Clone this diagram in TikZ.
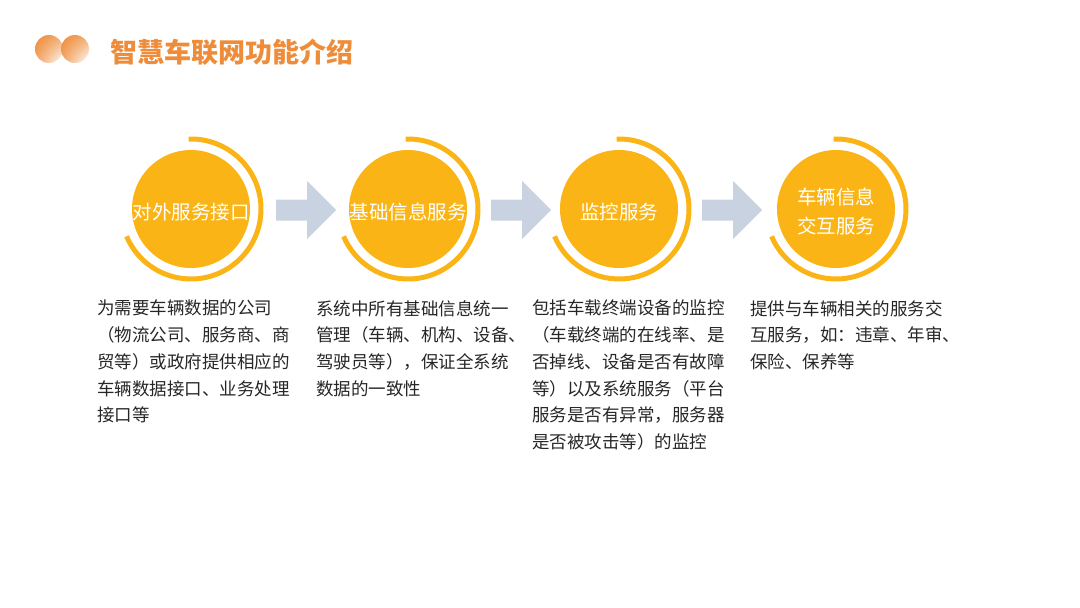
\documentclass[tikz,border=0pt]{standalone}
\usepackage{fontspec}
\usetikzlibrary{shadings}
\newfontfamily\cjk{Noto Sans CJK SC}
\definecolor{svcyellow}{HTML}{FBB416}
\definecolor{arrowgray}{HTML}{C8D2E0}
\definecolor{titleorange}{HTML}{EE8C3A}
\definecolor{txtgray}{HTML}{262626}
\tikzset{
  svc/.style={circle, fill=svcyellow, minimum size=118pt, inner sep=0pt},
  svctext/.style={inner sep=0pt, text=white, align=center,
    font=\cjk\fontsize{19.5}{29}\selectfont},
  ring/.style={svcyellow, line width=5pt},
  desc/.style={anchor=north west, inner sep=0pt, align=left, text=txtgray,
    font=\cjk\fontsize{17.5}{26.7}\selectfont},
  blockarrow/.style={fill=arrowgray},
  dot/.style={upper left=titleorange, upper right=titleorange!75!white,
    lower left=titleorange!80!white, lower right=white}
}

\begin{document}
\begin{tikzpicture}[x=1pt,y=1pt]
\useasboundingbox (0,0) rectangle (1080,-608);
% title
\shade[dot] (49,-49) circle[radius=14];
\shade[dot] (75,-49) circle[radius=14];
\node[anchor=west, inner sep=0pt, text=titleorange, font=\cjk\bfseries\fontsize{27}{30}\selectfont] (title) at (110,-52) {智慧车联网功能介绍};
% service circles
\node[svc] (c1) at (191,-209) {};
\node[svc] (c2) at (408,-209) {};
\node[svc] (c3) at (619,-209) {};
\node[svc] (c4) at (836,-209) {};
\node[svctext] (t1) at ([yshift=-3pt]c1.center) {对外服务接口};
\node[svctext] (t2) at ([yshift=-3pt]c2.center) {基础信息服务};
\node[svctext] (t3) at ([yshift=-3pt]c3.center) {监控服务};
\node[svctext] (t4) at ([yshift=-3pt]c4.center) {车辆信息\\交互服务};
\foreach \c in {c1,c2,c3,c4}
  \draw[ring] (\c.center) ++(92:70) arc[start angle=92, end angle=-157, radius=70];
% arrows
\foreach \x in {276,491,702}
  \fill[blockarrow] (\x,-199.5) -- (\x+31,-199.5) -- (\x+31,-181) -- (\x+60,-210)
    -- (\x+31,-239) -- (\x+31,-220.5) -- (\x,-220.5) -- cycle;
% descriptions
\node[desc] (d1) at (97,-300) {为需要车辆数据的公司\\（物流公司、服务商、商\\贸等）或政府提供相应的\\车辆数据接口、业务处理\\接口等};
\node[desc] (d2) at (316,-300) {系统中所有基础信息统一\\管理（车辆、机构、设备、\\驾驶员等），保证全系统\\数据的一致性};
\node[desc] (d3) at (532,-300) {包括车载终端设备的监控\\（车载终端的在线率、是\\否掉线、设备是否有故障\\等）以及系统服务（平台\\服务是否有异常，服务器\\是否被攻击等）的监控};
\node[desc] (d4) at (750,-300) {提供与车辆相关的服务交\\互服务，如：违章、年审、\\保险、保养等};
\end{tikzpicture}
\end{document}
